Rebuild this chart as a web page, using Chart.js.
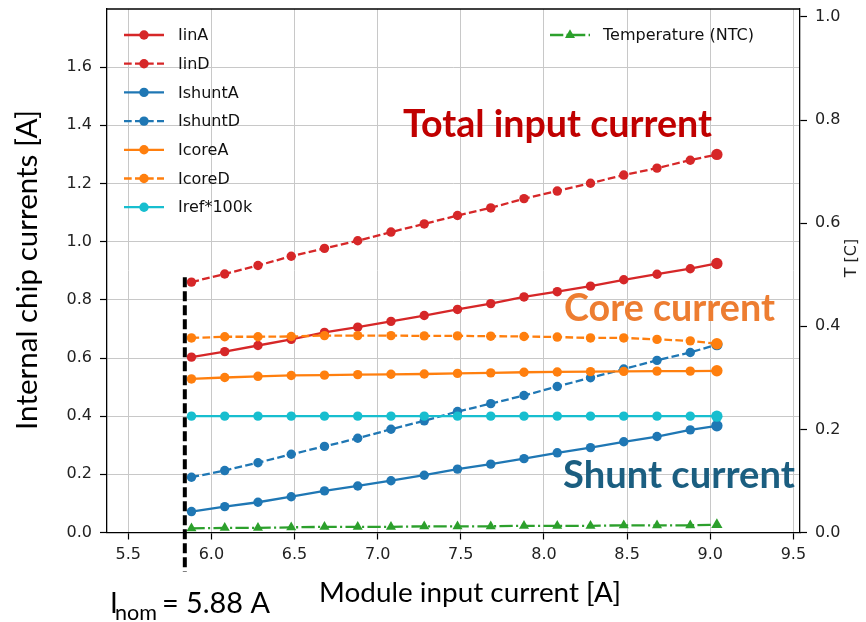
<!DOCTYPE html>
<html>
<head>
<meta charset="utf-8">
<script src="https://cdn.jsdelivr.net/npm/chart.js@4.4.1/dist/chart.umd.min.js"></script>
<style>
  body { margin: 0; background: #fff; }
  #contenedor { width: 866px; height: 622px; position: relative; }
</style>
</head>
<body>
<div id="contenedor"><canvas id="grafico"></canvas></div>
<script>
// datos
const corriente = [5.88, 6.08, 6.28, 6.48, 6.68, 6.88, 7.08, 7.28, 7.48, 7.68, 7.88, 8.08, 8.28, 8.48, 8.68, 8.88, 9.04];
const iinA = [0.603, 0.622, 0.643, 0.664, 0.688, 0.706, 0.726, 0.746, 0.767, 0.787, 0.810, 0.828, 0.847, 0.869, 0.888, 0.907, 0.925];
const iinD = [0.861, 0.889, 0.918, 0.950, 0.977, 1.003, 1.033, 1.061, 1.090, 1.116, 1.148, 1.174, 1.201, 1.229, 1.253, 1.280, 1.300];
const ishuntA = [0.072, 0.089, 0.104, 0.123, 0.143, 0.160, 0.178, 0.197, 0.218, 0.235, 0.254, 0.274, 0.292, 0.312, 0.330, 0.353, 0.367];
const ishuntD = [0.190, 0.213, 0.240, 0.269, 0.296, 0.324, 0.355, 0.384, 0.416, 0.443, 0.471, 0.502, 0.532, 0.562, 0.592, 0.619, 0.646];
const icoreA = [0.528, 0.533, 0.537, 0.540, 0.541, 0.543, 0.544, 0.545, 0.547, 0.549, 0.551, 0.552, 0.553, 0.554, 0.555, 0.555, 0.556];
const icoreD = [0.669, 0.673, 0.673, 0.674, 0.677, 0.677, 0.677, 0.676, 0.676, 0.675, 0.674, 0.672, 0.669, 0.669, 0.664, 0.659, 0.649];
const iref = [0.40, 0.40, 0.40, 0.40, 0.40, 0.40, 0.40, 0.40, 0.40, 0.40, 0.40, 0.40, 0.40, 0.40, 0.40, 0.40, 0.40];
const temperatura = [0.008, 0.009, 0.009, 0.010, 0.011, 0.011, 0.011, 0.012, 0.012, 0.012, 0.013, 0.013, 0.013, 0.014, 0.014, 0.014, 0.015];

const ticksX = [5.5, 6.0, 6.5, 7.0, 7.5, 8.0, 8.5, 9.0, 9.5];
const ticksY = [0, 0.2, 0.4, 0.6, 0.8, 1.0, 1.2, 1.4, 1.6];
const ticksT = [0, 0.2, 0.4, 0.6, 0.8, 1.0];

const iNom = 5.88;
const lineaNomX = 5.84;
const lineaNomY = [-0.135, 0.878];

const rojo = '#d62728', azul = '#1f77b4', naranja = '#ff7f0e', cian = '#17becf', verde = '#2ca02c';
const guion = [7.7, 3.3];
const guionPunto = [13.3, 3.3, 2.1, 3.3];

function serie(nombre, valores, color, dash, eje, estilo) {
    const tri = estilo === 'triangle';
    return {
        label: nombre,
        data: corriente.map((x, i) => ({ x: x, y: valores[i] })),
        borderColor: color,
        backgroundColor: color,
        borderWidth: 2.3,
        borderDash: dash,
        pointStyle: estilo || 'circle',
        pointRadius: ctx => ctx.dataIndex === corriente.length - 1 ? (tri ? 6.5 : 5.7) : (tri ? 5.8 : 4.7),
        pointBorderWidth: 0,
        tension: 0,
        yAxisID: eje
    };
}

const datasets = [
    serie('IinA', iinA, rojo, [], 'y'),
    serie('IinD', iinD, rojo, guion, 'y'),
    serie('IshuntA', ishuntA, azul, [], 'y'),
    serie('IshuntD', ishuntD, azul, guion, 'y'),
    serie('IcoreA', icoreA, naranja, [], 'y'),
    serie('IcoreD', icoreD, naranja, guion, 'y'),
    serie('Iref*100k', iref, cian, [], 'y'),
    serie('Temperature (NTC)', temperatura, verde, guionPunto, 'y1', 'triangle')
];
// que las ultimas series queden encima, como en matplotlib
datasets.forEach((d, i) => { d.order = datasets.length - i; });

function ajustarFuente(ctx, texto, peso, familia, ancho) {
    ctx.font = `${peso} 100px ${familia}`;
    return 100 * ancho / ctx.measureText(texto).width;
}

function marcador(ctx, estilo, x, y, r, color) {
    ctx.save();
    ctx.setLineDash([]);
    ctx.fillStyle = color;
    ctx.beginPath();
    if (estilo === 'triangle') {
        ctx.moveTo(x, y - r);
        ctx.lineTo(x + r * 0.866, y + r * 0.5);
        ctx.lineTo(x - r * 0.866, y + r * 0.5);
        ctx.closePath();
    } else {
        ctx.arc(x, y, r, 0, Math.PI * 2);
    }
    ctx.fill();
    ctx.restore();
}

const leyenda = {
    id: 'leyenda',
    afterDraw(chart) {
        const ctx = chart.ctx;
        let fila = 0;
        chart.data.datasets.forEach(ds => {
            let x0, y;
            if (ds.yAxisID === 'y1') {
                x0 = 550; y = 35;
            } else {
                x0 = 124; y = 35 + fila * 28.7; fila++;
            }
            ctx.save();
            ctx.strokeStyle = ds.borderColor;
            ctx.lineWidth = 2.3;
            ctx.setLineDash(ds.borderDash);
            ctx.beginPath();
            ctx.moveTo(x0, y);
            ctx.lineTo(x0 + 40, y);
            ctx.stroke();
            ctx.restore();
            marcador(ctx, ds.pointStyle, x0 + 20, y, ds.pointStyle === 'triangle' ? 5.8 : 4.7, ds.borderColor);
            ctx.save();
            ctx.fillStyle = '#111';
            ctx.font = '16px "DejaVu Sans"';
            ctx.textBaseline = 'middle';
            ctx.textAlign = 'left';
            ctx.fillText(ds.label, x0 + (ds.yAxisID === 'y1' ? 53 : 54), y + 1);
            ctx.restore();
        });
    }
};

const anotaciones = {
    id: 'anotaciones',
    afterDraw(chart) {
        const ctx = chart.ctx;
        const sx = chart.scales.x, sy = chart.scales.y;
        const area = chart.chartArea;

        // marco superior
        ctx.save();
        ctx.strokeStyle = '#000';
        ctx.lineWidth = 1.3;
        ctx.beginPath();
        ctx.moveTo(area.left, area.top);
        ctx.lineTo(area.right, area.top);
        ctx.stroke();
        ctx.restore();

        // linea de corriente nominal
        const xn = sx.getPixelForValue(lineaNomX);
        ctx.save();
        ctx.strokeStyle = '#000';
        ctx.lineWidth = 4;
        ctx.setLineDash([10, 4]);
        ctx.beginPath();
        ctx.moveTo(xn, sy.getPixelForValue(lineaNomY[1]));
        ctx.lineTo(xn, sy.getPixelForValue(lineaNomY[0]));
        ctx.stroke();
        ctx.restore();

        const textos = [
            { t: 'Total input current', x: 403, y: 136.5, w: 309, color: '#c00000' },
            { t: 'Core current', x: 564, y: 321, w: 211, color: '#ed7d31' },
            { t: 'Shunt current', x: 563, y: 488, w: 232, color: '#1b5e80' }
        ];
        ctx.save();
        ctx.textBaseline = 'alphabetic';
        ctx.textAlign = 'left';
        textos.forEach(o => {
            const tam = ajustarFuente(ctx, o.t, 'bold', 'Lato', o.w);
            ctx.font = `bold ${tam}px Lato`;
            ctx.fillStyle = o.color;
            ctx.fillText(o.t, o.x, o.y);
        });

        // titulos de ejes
        ctx.fillStyle = '#000';
        let tam = ajustarFuente(ctx, 'Module input current [A]', 'normal', 'Lato', 302);
        ctx.font = `${tam}px Lato`;
        ctx.textAlign = 'center';
        ctx.fillText('Module input current [A]', 470, 602);

        ctx.save();
        ctx.translate(27, 270);
        ctx.rotate(-Math.PI / 2);
        tam = ajustarFuente(ctx, 'Internal chip currents [A]', 'normal', 'Lato', 320);
        ctx.font = `${tam}px Lato`;
        ctx.textBaseline = 'middle';
        ctx.fillText('Internal chip currents [A]', 0, 0);
        ctx.restore();

        ctx.save();
        ctx.translate(852, 258);
        ctx.rotate(-Math.PI / 2);
        ctx.font = '16px "DejaVu Sans"';
        ctx.fillStyle = '#222';
        ctx.textBaseline = 'middle';
        ctx.fillText('T [C]', 0, 0);
        ctx.restore();

        // I_nom
        ctx.textAlign = 'left';
        ctx.font = '28px Lato';
        ctx.fillText('I', 110, 613);
        tam = ajustarFuente(ctx, 'nom', 'normal', 'Lato', 42);
        ctx.font = `${tam}px Lato`;
        ctx.fillText('nom', 115, 620);
        tam = ajustarFuente(ctx, '= ' + iNom.toFixed(2) + ' A', 'normal', 'Lato', 108);
        ctx.font = `${tam}px Lato`;
        ctx.fillText('= ' + iNom.toFixed(2) + ' A', 162, 613);
        ctx.restore();
    }
};

const fuenteTicks = { family: 'DejaVu Sans', size: 16 };
const sinRellenoVertical = s => { s.paddingTop = 0; s.paddingBottom = 0; };

new Chart(document.getElementById('grafico'), {
    type: 'line',
    data: { datasets: datasets },
    options: {
        responsive: true,
        maintainAspectRatio: false,
        animation: false,
        events: [],
        layout: { padding: { top: 9, left: 0, right: 0, bottom: 0 } },
        plugins: { legend: { display: false }, tooltip: { enabled: false } },
        scales: {
            x: {
                type: 'linear',
                min: 5.372,
                max: 9.54,
                afterBuildTicks: s => { s.ticks = ticksX.map(v => ({ value: v })); },
                afterFit: s => { s.height = 89.5; s.paddingLeft = 0; s.paddingRight = 0; },
                grid: { color: '#c8c8c8', lineWidth: 1, tickLength: 7, tickColor: '#000', tickWidth: 1.2 },
                border: { color: '#000', width: 1.3 },
                ticks: { padding: 6, color: '#222', font: fuenteTicks, maxRotation: 0, autoSkip: false, callback: v => v.toFixed(1) }
            },
            y: {
                position: 'left',
                min: 0,
                max: 1.8,
                afterBuildTicks: s => { s.ticks = ticksY.map(v => ({ value: v })); },
                afterFit: s => { s.width = 107; sinRellenoVertical(s); },
                grid: { color: '#c8c8c8', lineWidth: 1, tickLength: 7, tickColor: '#000', tickWidth: 1.2 },
                border: { color: '#000', width: 1.3 },
                ticks: { padding: 8, color: '#222', font: fuenteTicks, autoSkip: false, callback: v => v.toFixed(1) }
            },
            y1: {
                position: 'right',
                min: 0,
                max: 1.0155,
                afterBuildTicks: s => { s.ticks = ticksT.map(v => ({ value: v })); },
                afterFit: s => { s.width = 66; sinRellenoVertical(s); },
                grid: { drawOnChartArea: false, tickLength: 7, tickColor: '#000', tickWidth: 1.2 },
                border: { color: '#000', width: 1.3 },
                ticks: { padding: 8, color: '#222', font: fuenteTicks, autoSkip: false, callback: v => v.toFixed(1) }
            }
        }
    },
    plugins: [leyenda, anotaciones]
});
</script>
</body>
</html>
